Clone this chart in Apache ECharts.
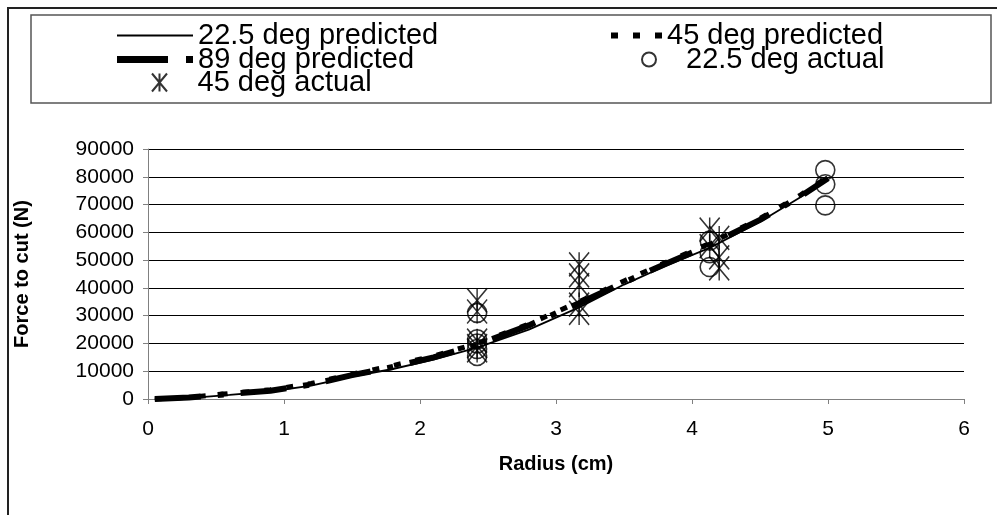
<!DOCTYPE html>
<html><head><meta charset="utf-8">
<script src="https://cdn.jsdelivr.net/npm/echarts@6/dist/echarts.min.js"></script>
<style>html,body{margin:0;padding:0;background:#fff}#c{width:997px;height:515px}</style>
</head><body><div id="c"></div>
<script>
// Radius (cm) grid for predicted curves
const radius   = [0.05, 0.3, 0.6, 0.9, 1.2, 1.5, 1.8, 2.1, 2.42, 2.8, 3.17, 3.5, 3.8, 4.13, 4.5, 4.8, 5.0];
const pred225  = [0, 350, 1500, 2700, 4800, 8100, 10800, 14200, 18500, 25000, 33000, 41200, 47800, 54400, 63800, 72700, 79000];
const pred45   = [0, 600, 2000, 3300, 5600, 9000, 12000, 15500, 20000, 27000, 35000, 42500, 49000, 56000, 65000, 73500, 80000];
const pred89   = [0, 500, 1800, 3000, 5200, 8600, 11500, 15000, 19500, 26500, 34500, 42000, 48500, 55500, 64500, 73000, 79500];
// Measured points
const act225R  = [2.42, 2.42, 2.42, 2.42, 2.42, 4.13, 4.13, 4.13, 4.98, 4.98, 4.98];
const act225F  = [31000, 21500, 20000, 18000, 15500, 57000, 52500, 47500, 82400, 77300, 69700];
const act45R   = [2.42, 2.42, 2.42, 2.42, 2.42, 3.17, 3.17, 3.17, 3.17, 3.17, 4.13, 4.13, 4.2, 4.2, 4.2];
const act45F   = [35500, 31500, 21000, 19000, 17500, 48500, 44500, 41000, 34000, 31000, 61000, 55000, 58000, 51000, 47000];
const names    = ['22.5 deg predicted', '45 deg predicted', '89 deg predicted', '22.5 deg actual', '45 deg actual'];

const FONT = 'Liberation Sans, Arial, sans-serif';
const zip = (a, b) => a.map((v, i) => [v, b[i]]);
const star = 'path://M0,0L20,24M20,0L0,24M10,0L10,24';

const legendCommon = {
  orient: 'horizontal', padding: 0, selectedMode: false,
  textStyle: { fontFamily: FONT, fontSize: 29, color: '#000', lineHeight: 24 }
};
const L = o => Object.assign({}, legendCommon, o);

const chart = echarts.init(document.getElementById('c'), null, { renderer: 'canvas' });
chart.setOption({
  animation: false,
  backgroundColor: '#fff',
  graphic: [
    { type: 'rect', z: -1, shape: { x: 8, y: 8, width: 1000, height: 520 }, style: { fill: 'none', stroke: '#222', lineWidth: 2 } },
    { type: 'rect', z: -1, shape: { x: 31, y: 15, width: 960, height: 88 }, style: { fill: 'none', stroke: '#555', lineWidth: 1.5 } }
  ],
  legend: [
    L({ left: 117, top: 21, itemWidth: 76, itemHeight: 2, icon: 'rect', data: [names[0]] }),
    L({ left: 611, top: 21, itemWidth: 51, itemHeight: 6, icon: 'path://M0,0h7v6h-7zM22,0h7v6h-7zM44,0h7v6h-7z', data: [names[1]] }),
    L({ left: 117, top: 45, itemWidth: 76, itemHeight: 7, icon: 'path://M0,0h51v7h-51zM69,0h7v7h-7z', data: [names[2]] }),
    L({ left: 641, top: 45, itemWidth: 64, itemHeight: 14, data: [names[3]] }),
    L({ left: 151, top: 68, itemWidth: 66, itemHeight: 18, data: [names[4]] })
  ],
  grid: { left: 148, right: 33, top: 149, bottom: 116, containLabel: false },
  xAxis: {
    type: 'value', min: 0, max: 6, interval: 1,
    name: 'Radius (cm)', nameLocation: 'middle', nameGap: 55,
    nameTextStyle: { fontFamily: FONT, fontSize: 20, fontWeight: 'bold', color: '#000' },
    axisLine: { show: true, lineStyle: { color: '#808080', width: 1 } },
    axisTick: { show: true, length: 5, lineStyle: { color: '#808080' } },
    splitLine: { show: false },
    axisLabel: { fontFamily: FONT, fontSize: 21, color: '#000', margin: 20 }
  },
  yAxis: {
    type: 'value', min: 0, max: 90000, interval: 10000,
    name: 'Force to cut (N)', nameLocation: 'middle', nameGap: 116, nameRotate: 90,
    nameTextStyle: { fontFamily: FONT, fontSize: 20, fontWeight: 'bold', color: '#000' },
    axisLine: { show: true, lineStyle: { color: '#808080', width: 1 } },
    axisTick: { show: true, length: 5, lineStyle: { color: '#808080' } },
    splitLine: { show: true, lineStyle: { color: '#000', width: 1 } },
    axisLabel: { fontFamily: FONT, fontSize: 21, color: '#000', margin: 14, formatter: v => String(v) }
  },
  series: [
    { name: names[0], type: 'line', data: zip(radius, pred225), symbol: 'none', z: 3,
      itemStyle: { color: '#000' }, lineStyle: { color: '#000', width: 1.8, type: 'solid' } },
    { name: names[1], type: 'line', data: zip(radius, pred45), symbol: 'none', z: 2,
      itemStyle: { color: '#000' }, lineStyle: { color: '#000', width: 5, type: [7, 15] } },
    { name: names[2], type: 'line', data: zip(radius, pred89), symbol: 'none', z: 2,
      itemStyle: { color: '#000' }, lineStyle: { color: '#000', width: 6, type: [46, 17, 6, 17] } },
    { name: names[3], type: 'scatter', data: zip(act225R, act225F), symbol: 'circle', symbolSize: [19, 19], z: 5,
      itemStyle: { color: 'transparent', borderColor: '#000', borderWidth: 1.6 } },
    { name: names[4], type: 'scatter', data: zip(act45R, act45F), symbol: star, symbolSize: [20, 24], z: 5,
      itemStyle: { color: 'transparent', borderColor: '#000', borderWidth: 1.6 } }
  ]
});
</script></body></html>
